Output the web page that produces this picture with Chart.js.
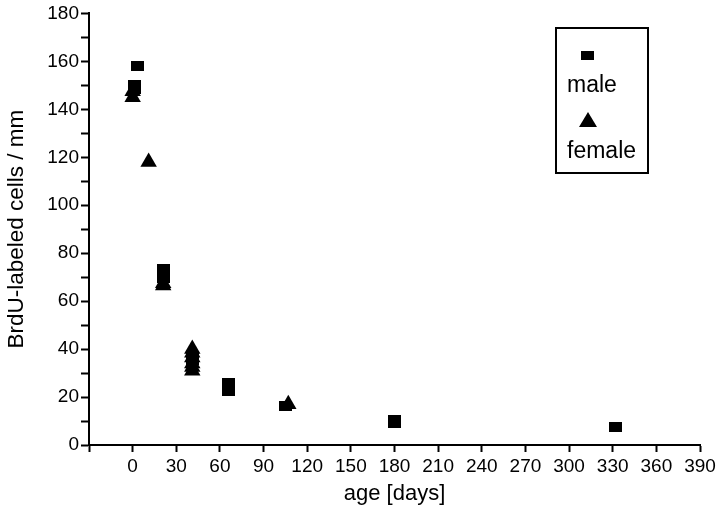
<!DOCTYPE html>
<html>
<head>
<meta charset="utf-8">
<script src="https://cdn.jsdelivr.net/npm/chart.js@4/dist/chart.umd.min.js"></script>
<style>
  html, body { margin: 0; padding: 0; background: #ffffff; }
  #wrap { width: 720px; height: 510px; }
</style>
</head>
<body>
<div id="wrap"><canvas id="c" width="720" height="510"></canvas></div>
<script>
// ---- data ----
const maleDays   = [3, 1, 1, 21, 21, 21, 41, 41, 66, 66, 66, 105, 180, 180, 332];
const maleCells  = [158, 150, 148.5, 73.5, 71, 69.5, 37, 35.5, 26, 24, 22.5, 16.3, 10.3, 9.1, 7.6];
const femaleDays  = [0, 0, 11, 21, 21, 41, 41, 41, 41, 41, 41, 107];
const femaleCells = [147.5, 145, 118, 67.5, 66.5, 40, 38.5, 36.5, 34, 32.5, 31, 17];
const xTicks = [-30, 0, 30, 60, 90, 120, 150, 180, 210, 240, 270, 300, 330, 360, 390];
const yTicks = [0, 20, 40, 60, 80, 100, 120, 140, 160, 180];
const seriesNames = ['male', 'female'];
const xTitle = 'age [days]';
const yTitle = 'BrdU-labeled cells / mm';

const toPts = (xs, ys) => xs.map((x, i) => ({ x: x, y: ys[i] }));

// square marker image (slightly wider than tall, as in the reference)
const sq = document.createElement('canvas');
sq.width = 13; sq.height = 10;
const sctx = sq.getContext('2d');
sctx.fillStyle = '#000';
sctx.fillRect(0, 0, 13, 10);

const FONT = "'Liberation Sans', Arial, Helvetica, sans-serif";

const legendBox = {
  id: 'legendBox',
  afterDraw(chart) {
    const ctx = chart.ctx;
    ctx.save();
    ctx.strokeStyle = '#000';
    ctx.lineWidth = 2;
    ctx.strokeRect(556, 28, 92, 145);
    // male marker
    ctx.drawImage(sq, 587 - 6.5, 55 - 4.5, 13, 9);
    // female marker
    ctx.fillStyle = '#000';
    ctx.beginPath();
    ctx.moveTo(588, 112);
    ctx.lineTo(597, 127);
    ctx.lineTo(579, 127);
    ctx.closePath();
    ctx.fill();
    ctx.font = '23px ' + FONT;
    ctx.textAlign = 'left';
    ctx.textBaseline = 'alphabetic';
    ctx.fillText(seriesNames[0], 567, 92);
    ctx.fillText(seriesNames[1], 567, 158);
    ctx.restore();
  }
};

new Chart(document.getElementById('c'), {
  type: 'scatter',
  data: {
    datasets: [
      {
        label: seriesNames[0],
        data: toPts(maleDays, maleCells),
        pointStyle: sq,
        backgroundColor: '#000',
        borderColor: '#000'
      },
      {
        label: seriesNames[1],
        data: toPts(femaleDays, femaleCells),
        pointStyle: 'triangle',
        pointRadius: 9.5,
        borderWidth: 0,
        backgroundColor: '#000',
        borderColor: '#000'
      }
    ]
  },
  options: {
    responsive: false,
    animation: false,
    events: [],
    layout: { padding: { top: 11, right: 20, left: 0, bottom: 0 } },
    plugins: {
      legend: { display: false },
      tooltip: { enabled: false }
    },
    scales: {
      x: {
        type: 'linear',
        min: xTicks[0],
        max: xTicks[xTicks.length - 1],
        afterBuildTicks: (s) => { s.ticks = xTicks.map(v => ({ value: v })); },
        afterFit: (s) => { s.height = 65; },
        border: { display: true, color: '#000', width: 2 },
        grid: { drawOnChartArea: false, drawTicks: true, tickLength: 7, tickColor: '#000', tickWidth: 2 },
        ticks: {
          color: '#000',
          padding: 3,
          maxRotation: 0,
          autoSkip: false,
          font: { family: FONT, size: 19 },
          callback: (v) => (v < 0 ? '' : String(v))
        },
        title: {
          display: true,
          text: xTitle,
          color: '#000',
          font: { family: FONT, size: 22 },
          padding: { top: 0, bottom: 3 }
        }
      },
      y: {
        type: 'linear',
        min: yTicks[0],
        max: yTicks[yTicks.length - 1],
        afterBuildTicks: (s) => {
          const t = [];
          for (let i = 0; i < yTicks.length; i++) {
            t.push({ value: yTicks[i] });
            if (i < yTicks.length - 1) t.push({ value: (yTicks[i] + yTicks[i + 1]) / 2 });
          }
          s.ticks = t;
        },
        afterFit: (s) => { s.width = 89; },
        border: { display: true, color: '#000', width: 2 },
        grid: { drawOnChartArea: false, drawTicks: true, tickLength: 8, tickColor: '#000', tickWidth: 2 },
        ticks: {
          color: '#000',
          padding: 2,
          autoSkip: false,
          font: { family: FONT, size: 19 },
          callback: (v) => (yTicks.includes(v) ? String(v) : '')
        },
        title: {
          display: true,
          text: yTitle,
          color: '#000',
          font: { family: FONT, size: 22.5 },
          padding: { top: 3, bottom: 0 }
        }
      }
    }
  },
  plugins: [legendBox]
});
</script>
</body>
</html>
